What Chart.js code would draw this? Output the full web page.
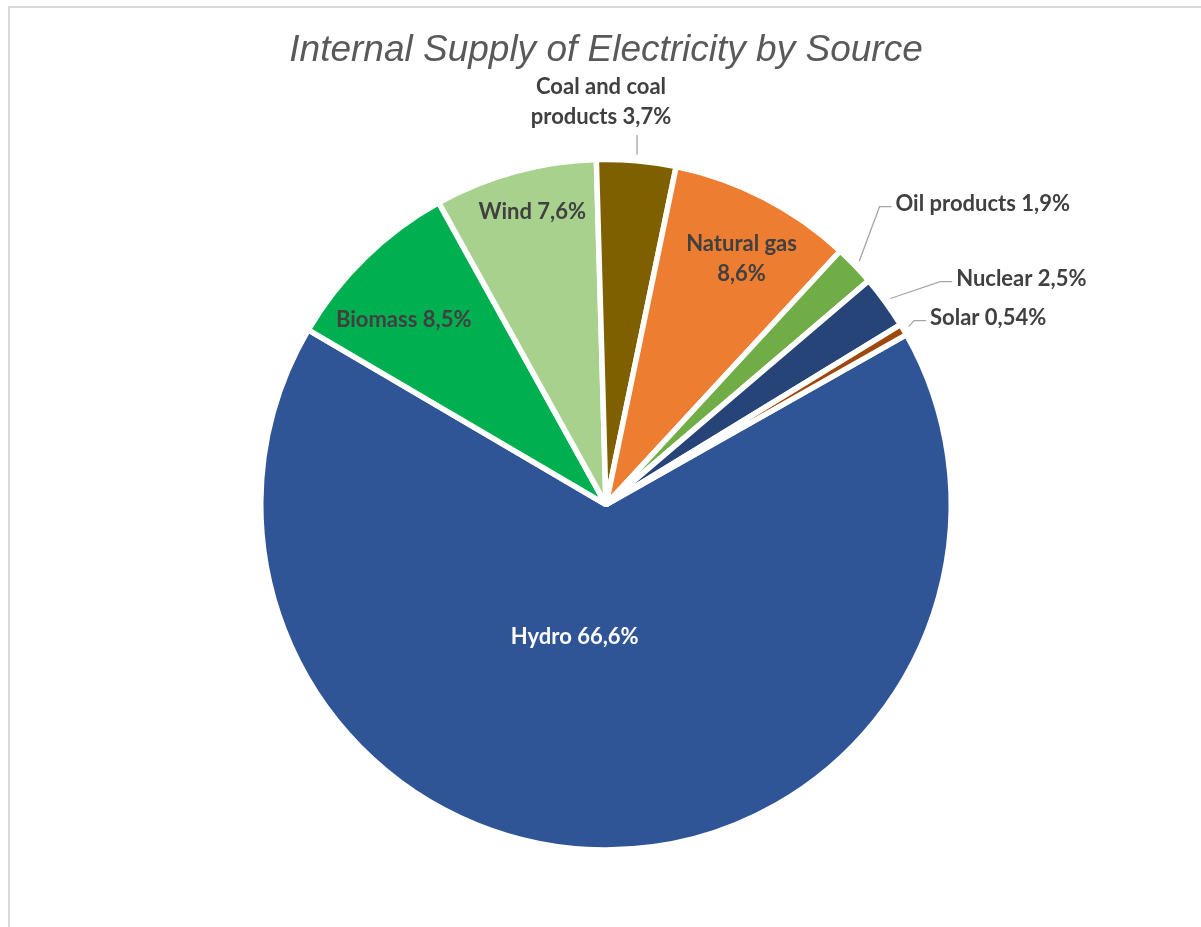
<!DOCTYPE html>
<html>
<head>
<meta charset="utf-8">
<title>Internal Supply of Electricity by Source</title>
<script src="https://cdn.jsdelivr.net/npm/chart.js@4.4.1/dist/chart.umd.min.js"></script>
<style>
    html, body { margin: 0; padding: 0; background: #ffffff; }
    #wrap { width: 1201px; height: 927px; position: relative; }
</style>
</head>
<body>
<div id="wrap"><canvas id="energyChart" width="1201" height="927"></canvas></div>
<script>
const sources = ['Hydro', 'Biomass', 'Wind', 'Coal and coal products', 'Natural gas', 'Oil products', 'Nuclear', 'Solar'];
const shares = [66.6, 8.5, 7.6, 3.7, 8.6, 1.9, 2.5, 0.54];
const sliceColors = ['#2F5597', '#00B050', '#A9D18E', '#7F6000', '#ED7D31', '#70AD47', '#264478', '#9E480E'];
const labelLines = [
    ['Hydro 66,6%'],
    ['Biomass 8,5%'],
    ['Wind 7,6%'],
    ['Coal and coal', 'products 3,7%'],
    ['Natural gas', '8,6%'],
    ['Oil products 1,9%'],
    ['Nuclear 2,5%'],
    ['Solar 0,54%']
];

// where each label sits: angle (deg, clockwise from top) and distance as part of the radius
const labelPlace = [
    {angle: 193.6, dist: 0.385, inside: true, color: '#ffffff'},
    {angle: -47.1, dist: 0.80, inside: true, color: '#404040'},
    {angle: -14, dist: 0.883, inside: true, color: '#404040'},
    {angle: -0.7, dist: 1.175, inside: false, align: 'center', color: '#404040'},
    {angle: 28.6, dist: 0.82, inside: true, color: '#404040'},
    {angle: 43.6, dist: 1.216, inside: false, align: 'left', color: '#404040'},
    {angle: 56.8, dist: 1.212, inside: false, align: 'left', color: '#404040'},
    {angle: 59.6, dist: 1.088, inside: false, align: 'left', color: '#404040'}
];

const labelFont = 'bold 22px Lato, "Open Sans", sans-serif';

function polar(cx, cy, deg, r) {
    const a = deg * Math.PI / 180;
    return {x: cx + r * Math.sin(a), y: cy - r * Math.cos(a)};
}

const framePlugin = {
    id: 'frame',
    beforeDraw(chart) {
        const ctx = chart.ctx;
        ctx.save();
        ctx.strokeStyle = '#d9d9d9';
        ctx.lineWidth = 2;
        ctx.beginPath();
        ctx.moveTo(9, 940);
        ctx.lineTo(9, 7);
        ctx.lineTo(1210, 7);
        ctx.stroke();
        ctx.restore();
    }
};

const sliceLabels = {
    id: 'sliceLabels',
    afterDatasetsDraw(chart) {
        const ctx = chart.ctx;
        const arcs = chart.getDatasetMeta(0).data;
        ctx.save();
        ctx.font = labelFont;
        ctx.textBaseline = 'middle';
        for (let i = 0; i < arcs.length; i++) {
            const arc = arcs[i];
            const p = arc.getProps(['x', 'y', 'startAngle', 'endAngle', 'outerRadius'], true);
            const place = labelPlace[i];
            const lines = labelLines[i];
            const pos = polar(p.x, p.y, place.angle, p.outerRadius * place.dist);
            const lineH = 30;
            const textY = pos.y + 3;
            ctx.fillStyle = place.color;
            if (place.inside || place.align === 'center') {
                ctx.textAlign = 'center';
                for (let j = 0; j < lines.length; j++) {
                    ctx.fillText(lines[j], pos.x, textY + (j - (lines.length - 1) / 2) * lineH);
                }
            } else {
                ctx.textAlign = 'left';
                ctx.fillText(lines[0], pos.x, textY);
            }
            if (!place.inside) {
                // leader line from the middle of the slice edge
                const mid = ((p.startAngle + p.endAngle) / 2) * 180 / Math.PI + 90;
                const start = polar(p.x, p.y, mid, p.outerRadius + 6);
                ctx.strokeStyle = '#a6a6a6';
                ctx.lineWidth = 1.3;
                ctx.beginPath();
                ctx.moveTo(start.x, start.y);
                if (place.align === 'center') {
                    ctx.lineTo(start.x, pos.y + lineH / 2 + 21);
                } else {
                    ctx.lineTo(pos.x - 16, pos.y + 6);
                    ctx.lineTo(pos.x - 4, pos.y + 6);
                }
                ctx.stroke();
            }
        }
        ctx.restore();
    }
};

const ctx = document.getElementById('energyChart').getContext('2d');

const chart = new Chart(ctx, {
    type: 'pie',
    data: {
        labels: sources,
        datasets: [{
            data: shares,
            backgroundColor: sliceColors,
            borderColor: '#ffffff',
            borderWidth: 5.5,
            hoverOffset: 0,
            offset: 0
        }]
    },
    options: {
        responsive: false,
        animation: false,
        rotation: 60.5,
        layout: {
            padding: {top: 0, bottom: 74, left: 258, right: 247}
        },
        plugins: {
            legend: { display: false },
            tooltip: { enabled: false },
            title: {
                display: true,
                text: 'Internal Supply of Electricity by Source',
                color: '#595959',
                font: {family: '"Liberation Sans", Arial, sans-serif', size: 37, style: 'italic', weight: 'normal'},
                padding: {top: 29, bottom: 83}
            }
        }
    },
    plugins: [framePlugin, sliceLabels]
});
</script>
</body>
</html>
